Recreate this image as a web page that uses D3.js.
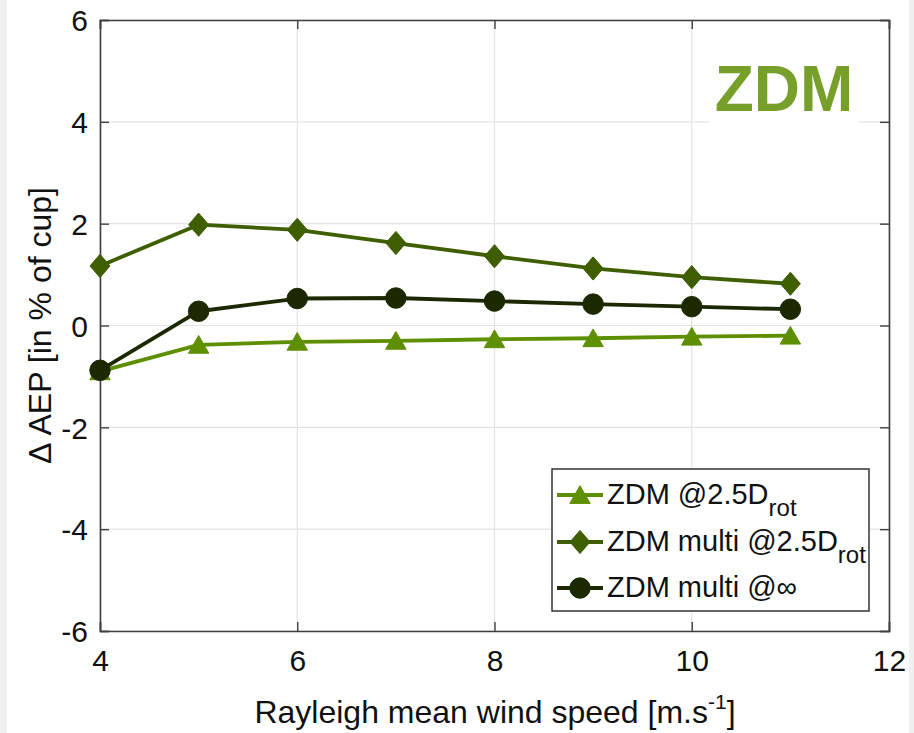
<!DOCTYPE html>
<html>
<head>
<meta charset="utf-8">
<script src="https://cdn.jsdelivr.net/npm/d3@7"></script>
<style>
  html, body { margin: 0; padding: 0; background: #f0f0f0; }
  svg { display: block; font-family: "Liberation Sans", Arial, sans-serif; }
</style>
</head>
<body>
<svg id="chart"></svg>
<script>
// wind speeds (x) and the three AEP difference series
let speeds = [4, 5, 6, 7, 8, 9, 10, 11];
let zdm25 = [-0.9, -0.38, -0.32, -0.3, -0.27, -0.25, -0.22, -0.2];
let zdmMulti25 = [1.17, 1.98, 1.88, 1.62, 1.36, 1.12, 0.95, 0.82];
let zdmMultiInf = [-0.88, 0.28, 0.53, 0.54, 0.48, 0.42, 0.37, 0.32];

let xTicks = [4, 6, 8, 10, 12];
let yTicks = [-6, -4, -2, 0, 2, 4, 6];

let seriesNames = ["ZDM @2.5D", "ZDM multi @2.5D", "ZDM multi @\u221e"];
let seriesSubs = ["rot", "rot", ""];

let width = 914;
let height = 733;

let svg = d3.select("#chart").attr("width", width).attr("height", height);

// figure background: white with thin gray strips at the sides
svg.append("rect").attr("x", 0).attr("y", 0).attr("width", width).attr("height", height).attr("fill", "#f0f0f0");
svg.append("rect").attr("x", 7).attr("y", 0).attr("width", 902).attr("height", height).attr("fill", "#ffffff");

let xScale = d3.scaleLinear().domain([4, 12]).range([100, 889]);
let yScale = d3.scaleLinear().domain([-6, 6]).range([631, 20]);

let axisColor = "#404040";
let gridColor = "#e3e3e3";

// plain hyphen for negatives, like the original
let fmt = (d) => String(d);

// grid
svg.append("g")
  .selectAll("line")
  .data(xTicks)
  .enter()
  .append("line")
  .attr("x1", (d) => xScale(d))
  .attr("x2", (d) => xScale(d))
  .attr("y1", yScale(6))
  .attr("y2", yScale(-6))
  .attr("stroke", gridColor)
  .attr("stroke-width", 1.2);

svg.append("g")
  .selectAll("line")
  .data(yTicks)
  .enter()
  .append("line")
  .attr("x1", xScale(4))
  .attr("x2", xScale(12))
  .attr("y1", (d) => yScale(d))
  .attr("y2", (d) => yScale(d))
  .attr("stroke", gridColor)
  .attr("stroke-width", 1.2);

// title box over the grid
svg.append("rect")
  .attr("x", 710).attr("y", 55).attr("width", 148).attr("height", 75)
  .attr("fill", "#ffffff");

svg.append("text")
  .attr("x", 784)
  .attr("y", 111)
  .attr("text-anchor", "middle")
  .attr("font-size", 64)
  .attr("font-weight", "bold")
  .attr("fill", "#76a02a")
  .text("ZDM");

// axes (MATLAB-like box with inward ticks)
let tickLen = 9;

let xAxisBottom = d3.axisBottom(xScale).tickValues(xTicks).tickSize(-tickLen).tickFormat(fmt);
let xAxisTop = d3.axisTop(xScale).tickValues(xTicks).tickSize(-tickLen).tickFormat("");
let yAxisLeft = d3.axisLeft(yScale).tickValues(yTicks).tickSize(-tickLen).tickFormat(fmt);
let yAxisRight = d3.axisRight(yScale).tickValues(yTicks).tickSize(-tickLen).tickFormat("");

let styleAxis = (g) => {
  g.select(".domain").attr("stroke", axisColor).attr("stroke-width", 1.6);
  g.selectAll(".tick line").attr("stroke", axisColor).attr("stroke-width", 1.4);
  g.selectAll(".tick text")
    .attr("fill", "#111")
    .attr("font-size", 30)
    .attr("font-family", "'Liberation Sans', Arial, sans-serif");
};

svg.append("g")
  .attr("transform", "translate(0," + yScale(-6) + ")")
  .call(xAxisBottom)
  .call(styleAxis)
  .call((g) => g.selectAll(".tick text").attr("dy", "0.71em").attr("y", 19));

svg.append("g")
  .attr("transform", "translate(0," + yScale(6) + ")")
  .call(xAxisTop)
  .call(styleAxis);

svg.append("g")
  .attr("transform", "translate(" + xScale(4) + ",0)")
  .call(yAxisLeft)
  .call(styleAxis)
  .call((g) => g.selectAll(".tick text").attr("x", -12).attr("dy", "0.36em"));

svg.append("g")
  .attr("transform", "translate(" + xScale(12) + ",0)")
  .call(yAxisRight)
  .call(styleAxis);

// axis labels
let xLabel = svg.append("text")
  .attr("x", 495)
  .attr("y", 723)
  .attr("text-anchor", "middle")
  .attr("font-size", 32)
  .attr("fill", "#111");
xLabel.append("tspan").text("Rayleigh mean wind speed [m.s");
xLabel.append("tspan").attr("font-size", 21).attr("dy", -14).text("-1");
xLabel.append("tspan").attr("dy", 14).text("]");

svg.append("text")
  .attr("transform", "translate(51," + yScale(0) + ") rotate(-90)")
  .attr("text-anchor", "middle")
  .attr("font-size", 32)
  .attr("fill", "#111")
  .text("\u0394 AEP [in % of cup]");

// markers
let diamondSym = {
  draw(ctx, size) {
    let w = Math.sqrt(size) * 0.62;
    let h = Math.sqrt(size) * 0.72;
    ctx.moveTo(0, -h);
    ctx.lineTo(w, 0);
    ctx.lineTo(0, h);
    ctx.lineTo(-w, 0);
    ctx.closePath();
  }
};
let triangleSym = {
  draw(ctx, size) {
    let w = Math.sqrt(size) * 0.6;
    let h = Math.sqrt(size) * 0.52;
    ctx.moveTo(0, -h * 1.05);
    ctx.lineTo(w, h * 0.95);
    ctx.lineTo(-w, h * 0.95);
    ctx.closePath();
  }
};

let series = [
  { values: zdm25, color: "#5e8f00", symbol: triangleSym, size: 290 },
  { values: zdmMulti25, color: "#3e5e00", symbol: diamondSym, size: 260 },
  { values: zdmMultiInf, color: "#1c2900", symbol: d3.symbolCircle, size: 330 }
];

let line = d3.line()
  .x((d) => xScale(d[0]))
  .y((d) => yScale(d[1]));

series.forEach((s) => {
  let pts = speeds.map((v, i) => [v, s.values[i]]);
  svg.append("path")
    .datum(pts)
    .attr("d", line)
    .attr("fill", "none")
    .attr("stroke", s.color)
    .attr("stroke-width", 3.8)
    .attr("stroke-linejoin", "round");

  svg.append("g")
    .selectAll("path")
    .data(pts)
    .enter()
    .append("path")
    .attr("transform", (d) => "translate(" + xScale(d[0]) + "," + yScale(d[1]) + ")")
    .attr("d", d3.symbol().type(s.symbol).size(s.size))
    .attr("fill", s.color)
    .attr("stroke", s.color)
    .attr("stroke-width", 1);
});

// legend
let legend = svg.append("g");
legend.append("rect")
  .attr("x", 552).attr("y", 469).attr("width", 317).attr("height", 142)
  .attr("fill", "#ffffff")
  .attr("stroke", "#333")
  .attr("stroke-width", 1.5);

let rowY = [495, 542, 588];
series.forEach((s, i) => {
  legend.append("line")
    .attr("x1", 557).attr("x2", 603)
    .attr("y1", rowY[i]).attr("y2", rowY[i])
    .attr("stroke", s.color)
    .attr("stroke-width", 3.8);
  legend.append("path")
    .attr("transform", "translate(580," + rowY[i] + ")")
    .attr("d", d3.symbol().type(s.symbol).size(s.size))
    .attr("fill", s.color)
    .attr("stroke", s.color)
    .attr("stroke-width", 1);
  let t = legend.append("text")
    .attr("x", 607)
    .attr("y", rowY[i] + 9)
    .attr("font-size", 29)
    .attr("fill", "#111");
  t.append("tspan").text(seriesNames[i]);
  if (seriesSubs[i]) {
    t.append("tspan").attr("font-size", 24).attr("dy", 12).text(seriesSubs[i]);
  }
});
</script>
</body>
</html>
